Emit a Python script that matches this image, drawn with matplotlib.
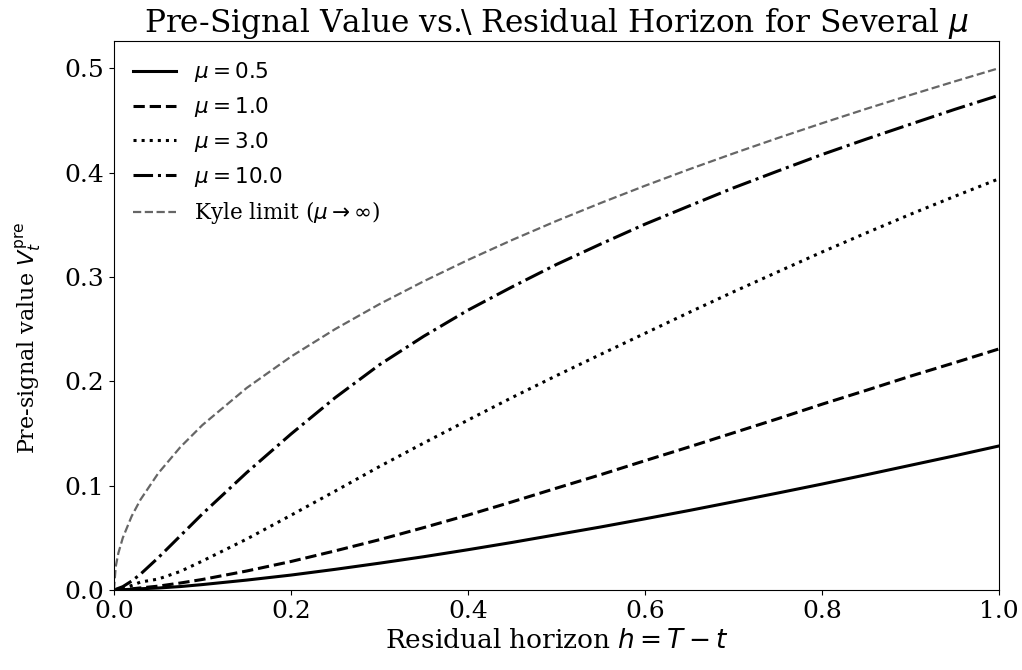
import matplotlib
matplotlib.use('Agg')
import matplotlib.pyplot as plt

plt.rcParams['font.family'] = 'DejaVu Serif'
plt.rcParams['mathtext.fontset'] = 'dejavusans'

# residual horizon grid
h = [0.0, 0.01, 0.02, 0.03, 0.05, 0.075, 0.1, 0.15, 0.2, 0.25, 0.3, 0.35,
     0.4, 0.45, 0.5, 0.55, 0.6, 0.65, 0.7, 0.75, 0.8, 0.85, 0.9, 0.95, 1.0]

# pre-signal value for each mu
v_mu05 = [0.0, 0.0003, 0.0007, 0.0012, 0.0019, 0.0033, 0.0052, 0.0095,
          0.0143, 0.0198, 0.0257, 0.0319, 0.0386, 0.0456, 0.0530, 0.0604,
          0.0682, 0.0762, 0.0845, 0.0929, 0.1015, 0.1104, 0.1195, 0.1286,
          0.138]
v_mu1 = [0.0, 0.0004, 0.0011, 0.0020, 0.0037, 0.0067, 0.0101, 0.0182,
         0.0273, 0.0375, 0.0482, 0.0598, 0.0718, 0.0845, 0.0976, 0.1105,
         0.1239, 0.1371, 0.1506, 0.1641, 0.1780, 0.1913, 0.2049, 0.2178,
         0.231]
v_mu3 = [0.0, 0.0016, 0.0043, 0.0076, 0.0105, 0.0178, 0.0278, 0.0488,
         0.0716, 0.0948, 0.1183, 0.1408, 0.1628, 0.1845, 0.2054, 0.2258,
         0.2459, 0.2660, 0.2857, 0.3048, 0.3238, 0.3421, 0.3600, 0.3772,
         0.394]
v_mu10 = [0.0, 0.0032, 0.0086, 0.0152, 0.0309, 0.0519, 0.0730, 0.1125,
          0.1494, 0.1843, 0.2158, 0.2431, 0.2681, 0.2905, 0.3119, 0.3315,
          0.3505, 0.3680, 0.3853, 0.4014, 0.4172, 0.4320, 0.4463, 0.4605,
          0.474]

# Kyle limit, read on a finer grid near zero
h_kyle = [0.0, 0.002, 0.005, 0.01, 0.02, 0.03, 0.05, 0.075, 0.1, 0.15, 0.2,
          0.25, 0.3, 0.35, 0.4, 0.45, 0.5, 0.55, 0.6, 0.65, 0.7, 0.75, 0.8,
          0.85, 0.9, 0.95, 1.0]
v_kyle = [0.0, 0.0224, 0.0354, 0.050, 0.0707, 0.0866, 0.1118, 0.1369,
          0.1581, 0.1936, 0.2236, 0.250, 0.2739, 0.2958, 0.3162, 0.3354,
          0.3536, 0.3708, 0.3873, 0.4031, 0.4183, 0.4330, 0.4472, 0.4610,
          0.4743, 0.4873, 0.500]

fig = plt.figure(figsize=(10.22, 6.70), dpi=100)
ax = fig.add_axes([0.1115, 0.1194, 0.866, 0.8194])

ax.plot(h, v_mu05, color='black', linestyle='-', lw=2.2, label=r'$\mu=0.5$')
ax.plot(h, v_mu1, color='black', linestyle='--', lw=2.2, label=r'$\mu=1.0$')
ax.plot(h, v_mu3, color='black', linestyle=':', lw=2.2, label=r'$\mu=3.0$')
ax.plot(h, v_mu10, color='black', linestyle='-.', lw=2.2, label=r'$\mu=10.0$')
ax.plot(h_kyle, v_kyle, color='0.4', linestyle='--', lw=1.6,
        label=r'Kyle limit ($\mu\to\infty$)')

ax.set_xlim(0, 1)
ax.set_ylim(0, 0.526)
ax.tick_params(labelsize=18)
ax.set_xlabel(r'Residual horizon $h=T-t$', fontsize=19)
ax.set_ylabel(r'Pre-signal value $V_t^{\mathrm{pre}}$', fontsize=16)
ax.yaxis.set_label_coords(-0.08, 0.46)
ax.set_title(r'Pre-Signal Value vs.\ Residual Horizon for Several $\mu$',
             fontsize=22.5)
ax.legend(loc='upper left', frameon=False, fontsize=15.5)

plt.savefig('out.png', dpi=100)
